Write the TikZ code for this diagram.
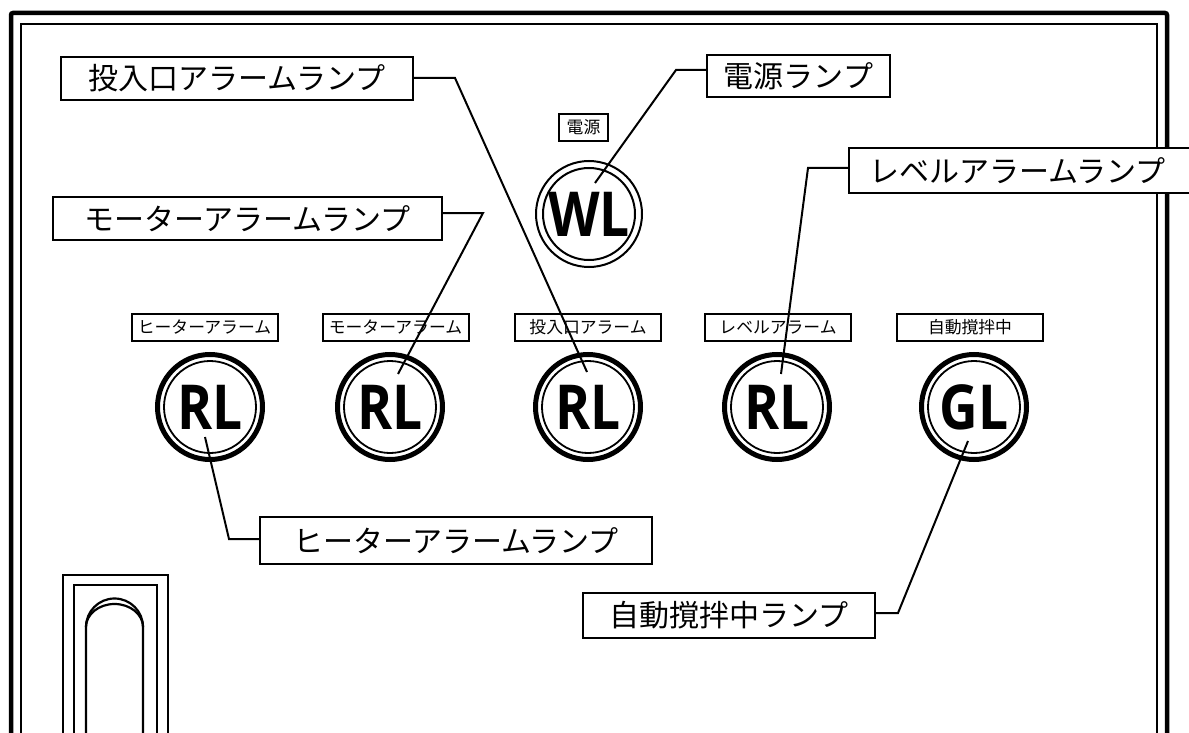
\documentclass[tikz,border=0pt]{standalone}
\usepackage{fontspec}
\usepackage{graphicx}
\newfontfamily\jp{Noto Sans CJK JP}
\newfontfamily\lampfont{Open Sans}
\begin{document}
\begin{tikzpicture}[x=1pt,y=-1pt,
  bigbox/.style={draw, line width=2.4, fill=white, inner sep=0, minimum height=43,
    font=\jp\fontsize{30}{30}\selectfont},
  smallbox/.style={draw, line width=2, fill=white, inner sep=0, minimum width=146,
    minimum height=27, font=\jp\fontsize{16.8}{17}\selectfont},
  lamp/.style={circle, inner sep=0, minimum size=110,
    font=\lampfont\bfseries\fontsize{62}{62}\selectfont},
  leader/.style={line width=2},
  thickframe/.style={line width=4.5},
  thinline/.style={line width=2.2}]
\useasboundingbox (0,0) rectangle (1189,733);
\clip (0,0) rectangle (1189,733);
\fill[white] (0,0) rectangle (1189,733);

% frame
\draw[thickframe, rounded corners=2] (11,745) -- (11,13) -- (1167,13) -- (1167,745);
\draw[thinline] (21,745) -- (21,24) -- (1157,24) -- (1157,745);

% handle
\draw[thinline] (63,745) -- (63,575) -- (168,575) -- (168,745);
\draw[thinline] (74,745) -- (74,585) -- (157,585) -- (157,745);
\draw[thinline] (86,745) -- (86,627) arc[start angle=180, end angle=360, radius=28.5] -- (143,745);
\draw[thinline] (86,627) arc[start angle=180, end angle=360, x radius=28.5, y radius=23];

% small labels
\node[smallbox] (s1) at (204.5,327.5) {ヒーターアラーム};
\node[smallbox] (s2) at (395.5,327.5) {モーターアラーム};
\node[smallbox] (s3) at (588,327.5) {投入口アラーム};
\node[smallbox] (s4) at (778,327.5) {レベルアラーム};
\node[smallbox] (s5) at (970,327.5) {自動撹拌中};
\node[smallbox, minimum width=49] (s0) at (583.5,127.5) {電源};

% lamps
\node[lamp] (wl) at (589,214) {\scalebox{0.86}[1]{WL}};
\node[lamp] (rl1) at (210,407) {\scalebox{0.86}[1]{RL}};
\node[lamp] (rl2) at (390,407) {\scalebox{0.86}[1]{RL}};
\node[lamp] (rl3) at (588,407) {\scalebox{0.86}[1]{RL}};
\node[lamp] (rl4) at (777,407) {\scalebox{0.86}[1]{RL}};
\node[lamp] (gl) at (974,407) {\scalebox{0.86}[1]{GL}};
\foreach \n in {rl1,rl2,rl3,rl4,gl} {
  \draw[line width=5] (\n.center) circle[radius=52.5];
  \draw[line width=1.8] (\n.center) circle[radius=46];
}
\draw[line width=2] (wl.center) circle[radius=53];
\draw[line width=2] (wl.center) circle[radius=46];

% callout boxes
\node[bigbox, minimum width=352] (b1) at (237,78.5) {投入口アラームランプ};
\node[bigbox, minimum width=183, minimum height=42] (b2) at (798.5,76) {電源ランプ};
\node[bigbox, anchor=west, minimum height=45, inner xsep=20, text width=340, align=left] (b3) at (848,170.5) {レベルアラームランプ};
\node[bigbox, minimum width=389] (b4) at (247.5,218.5) {モーターアラームランプ};
\node[bigbox, minimum width=392, minimum height=47] (b5) at (456,540.5) {ヒーターアラームランプ};
\node[bigbox, minimum width=292, minimum height=45] (b6) at (729,615.5) {自動撹拌中ランプ};

% leader points
\coordinate (k1) at (455,78);
\coordinate (e1) at (587,372);
\coordinate (k2) at (676,70);
\coordinate (e2) at (595,183);
\coordinate (k3) at (808,168);
\coordinate (e3) at (781,374);
\coordinate (k4) at (483,213);
\coordinate (e4) at (398,374);
\coordinate (k5) at (229,539);
\coordinate (e5) at (205,437);
\coordinate (k6) at (898,613);
\coordinate (e6) at (968,441);

\draw[leader] (b1.east |- k1) -- (k1) -- (e1);
\draw[leader] (b2.west |- k2) -- (k2) -- (e2);
\draw[leader] (b3.west |- k3) -- (k3) -- (e3);
\draw[leader] (b4.east |- k4) -- (k4) -- (e4);
\draw[leader] (b5.west |- k5) -- (k5) -- (e5);
\draw[leader] (b6.east |- k6) -- (k6) -- (e6);
\end{tikzpicture}
\end{document}
